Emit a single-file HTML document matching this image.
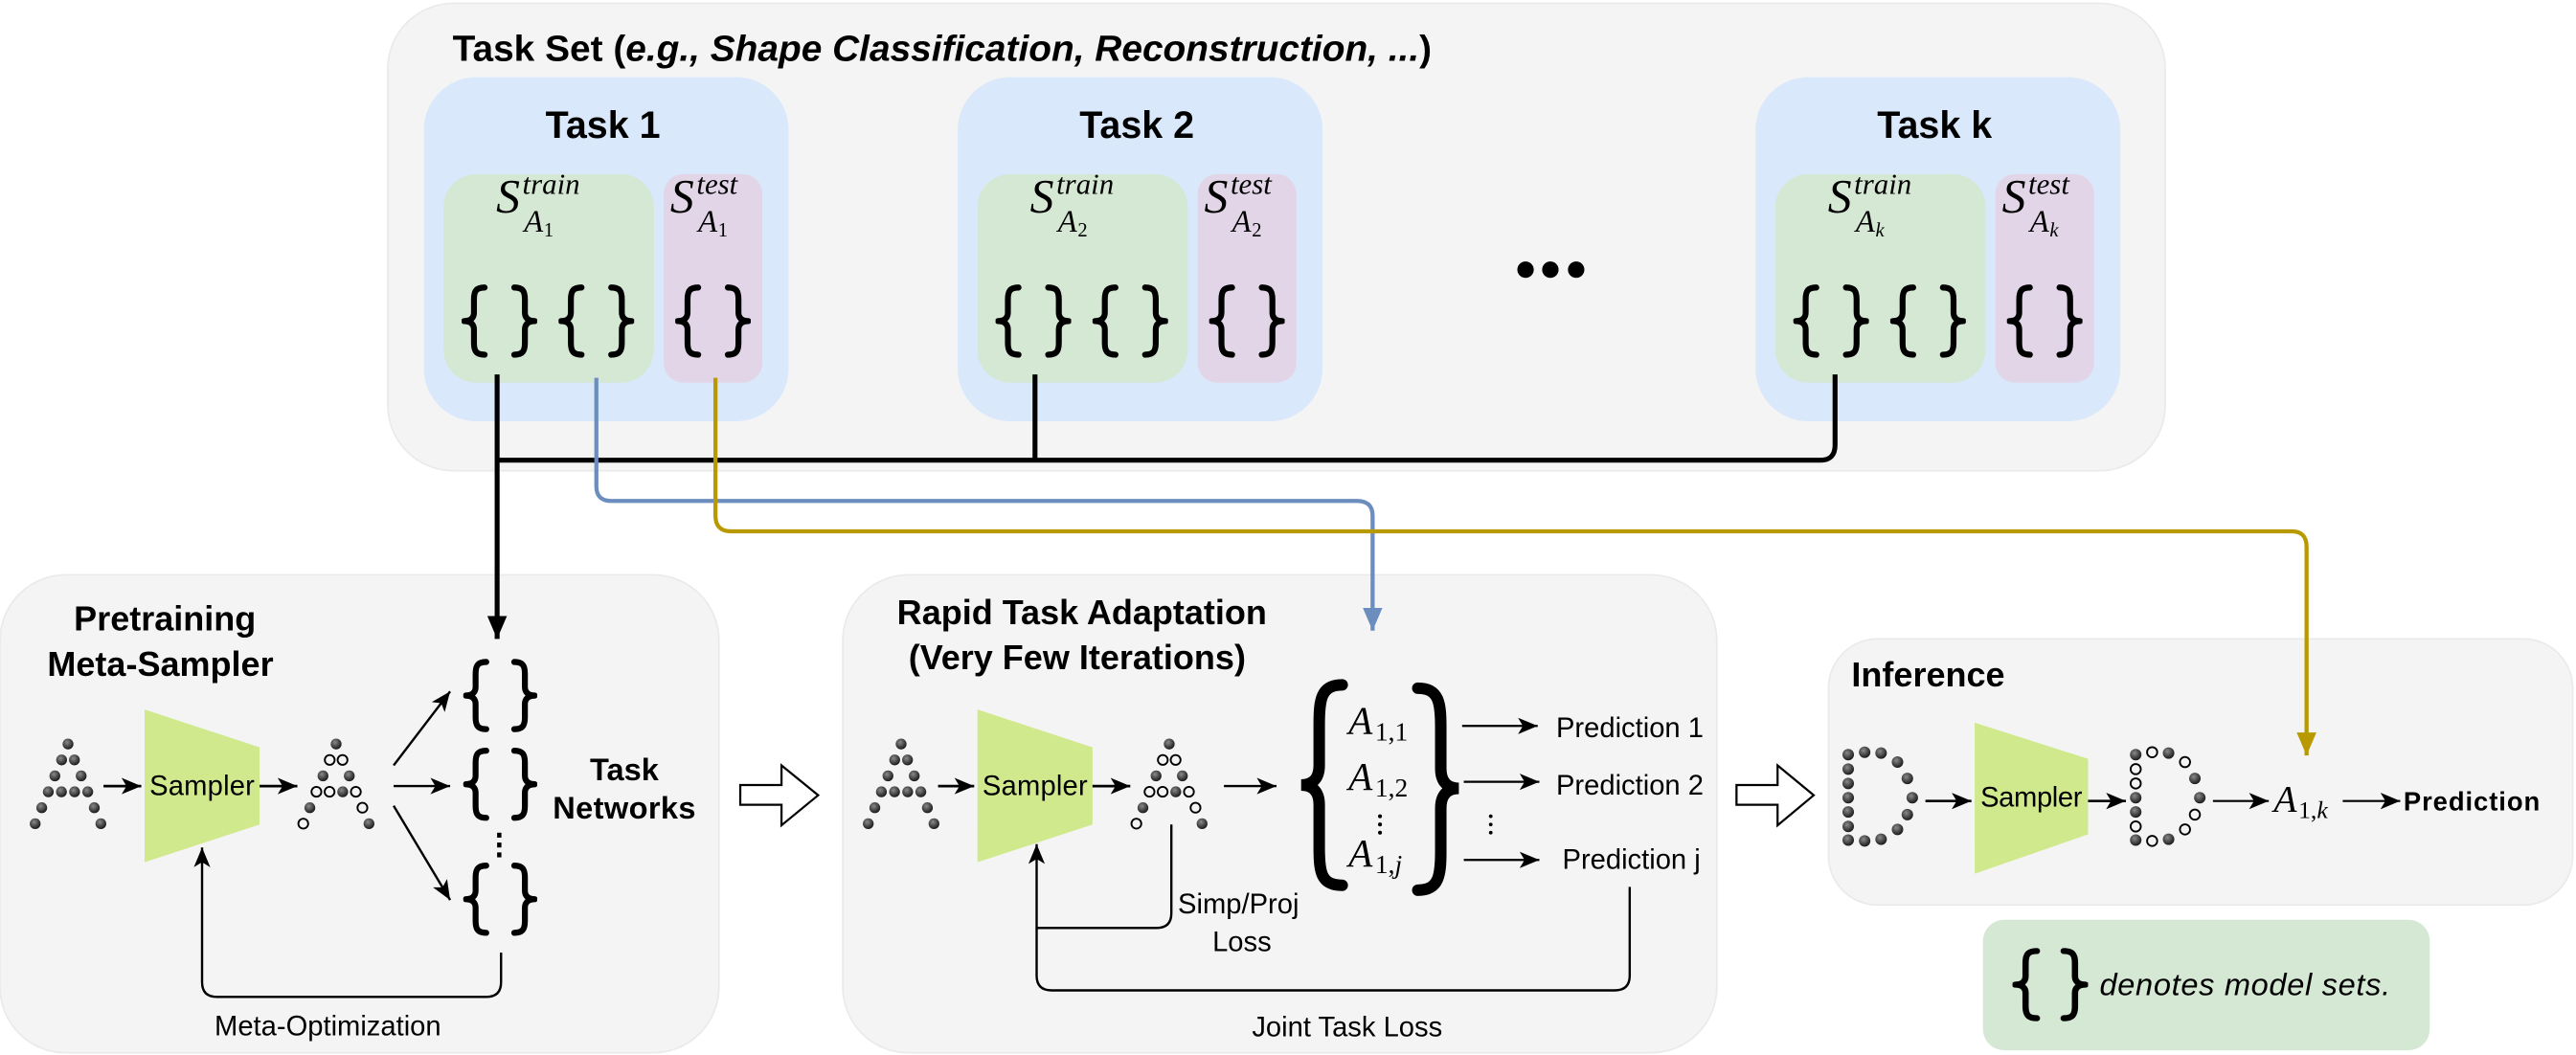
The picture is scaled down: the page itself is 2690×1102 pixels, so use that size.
<!DOCTYPE html>
<html><head><meta charset="utf-8"><style>
html,body{margin:0;padding:0;background:#fff;}
svg{display:block;}
text{font-family:"Liberation Sans",sans-serif;}
.m{font-family:"Liberation Serif",serif;font-style:italic;}
.mu{font-family:"Liberation Serif",serif;}
</style></head><body>
<svg width="2690" height="1102" viewBox="0 0 1568 642.35" preserveAspectRatio="none" xmlns="http://www.w3.org/2000/svg">
<defs>
<radialGradient id="g" cx="40%" cy="35%" r="65%"><stop offset="0" stop-color="#8a8a8a"/><stop offset="1" stop-color="#1a1a1a"/></radialGradient>
<marker id="ah" markerUnits="userSpaceOnUse" markerWidth="14" markerHeight="12" refX="12" refY="5" orient="auto"><path d="M0,0 L12,5 L0,10 L3,5 Z" fill="#000"/></marker>
<marker id="ahB" markerUnits="userSpaceOnUse" markerWidth="16" markerHeight="14" refX="14" refY="6" orient="auto"><path d="M0,0 L14,6 L0,12 Z" fill="#000"/></marker>
<marker id="ahBl" markerUnits="userSpaceOnUse" markerWidth="16" markerHeight="14" refX="14" refY="6" orient="auto"><path d="M0,0 L14,6 L0,12 Z" fill="#6c8ebf"/></marker>
<marker id="ahG" markerUnits="userSpaceOnUse" markerWidth="16" markerHeight="14" refX="14" refY="6" orient="auto"><path d="M0,0 L14,6 L0,12 Z" fill="#b89a00"/></marker>
<symbol id="bl" viewBox="0 0 16 44" preserveAspectRatio="none"><path d="M14,2 C9,2 7.5,4 7.5,9 L7.5,17 C7.5,20 5.5,22 1.5,22 C5.5,22 7.5,24 7.5,27 L7.5,35 C7.5,40 9,42 14,42" fill="none" stroke="#000" stroke-width="3.6" stroke-linecap="round" stroke-linejoin="round"/></symbol>
<symbol id="br" viewBox="0 0 16 44" preserveAspectRatio="none"><path d="M2,2 C7,2 8.5,4 8.5,9 L8.5,17 C8.5,20 10.5,22 14.5,22 C10.5,22 8.5,24 8.5,27 L8.5,35 C8.5,40 7,42 2,42" fill="none" stroke="#000" stroke-width="3.6" stroke-linecap="round" stroke-linejoin="round"/></symbol>
</defs>

<!-- Task set -->
<rect x="236" y="2" width="1082" height="284.6" rx="40" fill="#f4f4f4" stroke="#eaeaea"/>
<text x="275.5" y="37" font-size="22" font-weight="bold" textLength="596" lengthAdjust="spacingAndGlyphs">Task Set (<tspan font-style="italic">e.g., Shape Classification, Reconstruction, ...</tspan>)</text>

<!-- Task 1 -->
<rect x="258" y="47" width="222" height="209.5" rx="32" fill="#dae8fb"/>
<text x="367" y="84" font-size="23" font-weight="bold" text-anchor="middle">Task 1</text>
<rect x="270" y="106" width="128" height="127" rx="20" fill="#d5e8d4"/>
<rect x="404" y="106" width="60" height="127" rx="12" fill="#e1d5e7"/>
<text class="m" x="302" y="129" font-size="29">S</text><text class="m" x="318" y="118" font-size="18">train</text><text class="m" x="319" y="141" font-size="19">A</text><text class="mu" x="331" y="144" font-size="12">1</text>
<text class="m" x="408" y="129" font-size="29">S</text><text class="m" x="424" y="118" font-size="18">test</text><text class="m" x="425" y="141" font-size="19">A</text><text class="mu" x="437" y="144" font-size="12">1</text>
<use href="#bl" x="281" y="173" width="16" height="45"/><use href="#br" x="311" y="173" width="16" height="45"/>
<use href="#bl" x="340" y="173" width="16" height="45"/><use href="#br" x="370" y="173" width="16" height="45"/>
<use href="#bl" x="411" y="173" width="16" height="45"/><use href="#br" x="441" y="173" width="16" height="45"/>

<!-- Task 2 -->
<rect x="583" y="47" width="222" height="209.5" rx="32" fill="#dae8fb"/>
<text x="692" y="84" font-size="23" font-weight="bold" text-anchor="middle">Task 2</text>
<rect x="595" y="106" width="128" height="127" rx="20" fill="#d5e8d4"/>
<rect x="729" y="106" width="60" height="127" rx="12" fill="#e1d5e7"/>
<text class="m" x="627" y="129" font-size="29">S</text><text class="m" x="643" y="118" font-size="18">train</text><text class="m" x="644" y="141" font-size="19">A</text><text class="mu" x="656" y="144" font-size="12">2</text>
<text class="m" x="733" y="129" font-size="29">S</text><text class="m" x="749" y="118" font-size="18">test</text><text class="m" x="750" y="141" font-size="19">A</text><text class="mu" x="762" y="144" font-size="12">2</text>
<use href="#bl" x="606" y="173" width="16" height="45"/><use href="#br" x="636" y="173" width="16" height="45"/>
<use href="#bl" x="665" y="173" width="16" height="45"/><use href="#br" x="695" y="173" width="16" height="45"/>
<use href="#bl" x="736" y="173" width="16" height="45"/><use href="#br" x="766" y="173" width="16" height="45"/>

<!-- dots -->
<circle cx="928.6" cy="164.2" r="5" fill="#000"/><circle cx="943.7" cy="164.2" r="5" fill="#000"/><circle cx="959.4" cy="164.2" r="5" fill="#000"/>

<!-- Task k -->
<rect x="1068.6" y="47" width="222" height="209.5" rx="32" fill="#dae8fb"/>
<text x="1177.6" y="84" font-size="23" font-weight="bold" text-anchor="middle">Task k</text>
<rect x="1080.6" y="106" width="128" height="127" rx="20" fill="#d5e8d4"/>
<rect x="1214.6" y="106" width="60" height="127" rx="12" fill="#e1d5e7"/>
<text class="m" x="1112.6" y="129" font-size="29">S</text><text class="m" x="1128.6" y="118" font-size="18">train</text><text class="m" x="1129.6" y="141" font-size="19">A</text><text class="m" x="1141.6" y="144" font-size="12">k</text>
<text class="m" x="1218.6" y="129" font-size="29">S</text><text class="m" x="1234.6" y="118" font-size="18">test</text><text class="m" x="1235.6" y="141" font-size="19">A</text><text class="m" x="1247.6" y="144" font-size="12">k</text>
<use href="#bl" x="1091.6" y="173" width="16" height="45"/><use href="#br" x="1121.6" y="173" width="16" height="45"/>
<use href="#bl" x="1150.6" y="173" width="16" height="45"/><use href="#br" x="1180.6" y="173" width="16" height="45"/>
<use href="#bl" x="1221.6" y="173" width="16" height="45"/><use href="#br" x="1251.6" y="173" width="16" height="45"/>

<!-- Pretraining box -->
<rect x="0" y="350" width="437.6" height="291" rx="40" fill="#f4f4f4" stroke="#eaeaea"/>
<text x="45" y="383.7" font-size="21" font-weight="bold">Pretraining</text>
<text x="28.8" y="411.6" font-size="21" font-weight="bold">Meta-Sampler</text>
<polygon points="88,432 158,455 158,502 88,525" fill="#cfe98c"/>
<text x="123" y="484" font-size="17" text-anchor="middle" textLength="64">Sampler</text>
<line x1="63" y1="478.6" x2="86" y2="478.6" stroke="#000" stroke-width="1.6" marker-end="url(#ah)"/>
<line x1="158" y1="478.6" x2="181" y2="478.6" stroke="#000" stroke-width="1.6" marker-end="url(#ah)"/>
<g id="Ain" fill="url(#g)">
<circle cx="41.4" cy="453" r="3.3"/>
<circle cx="37.5" cy="462.7" r="3.3"/><circle cx="45.3" cy="462.7" r="3.3"/>
<circle cx="33.4" cy="472.4" r="3.3"/><circle cx="49.4" cy="472.4" r="3.3"/>
<circle cx="29.4" cy="482.1" r="3.3"/><circle cx="37.4" cy="482.1" r="3.3"/><circle cx="45.4" cy="482.1" r="3.3"/><circle cx="53.4" cy="482.1" r="3.3"/>
<circle cx="25.4" cy="491.8" r="3.3"/><circle cx="57.4" cy="491.8" r="3.3"/>
<circle cx="21.4" cy="501.5" r="3.3"/><circle cx="61.4" cy="501.5" r="3.3"/>
</g>
<g id="Aout" stroke="#000" stroke-width="1.1">
<circle cx="204.6" cy="453" r="3.3" fill="url(#g)" stroke="none"/>
<circle cx="200.7" cy="462.7" r="3" fill="none"/><circle cx="208.5" cy="462.7" r="3" fill="none"/>
<circle cx="196.6" cy="472.4" r="3.3" fill="url(#g)" stroke="none"/><circle cx="212.6" cy="472.4" r="3.3" fill="url(#g)" stroke="none"/>
<circle cx="192.6" cy="482.1" r="3" fill="none"/><circle cx="200.6" cy="482.1" r="3" fill="none"/><circle cx="208.6" cy="482.1" r="3.3" fill="url(#g)" stroke="none"/><circle cx="216.6" cy="482.1" r="3" fill="none"/>
<circle cx="188.6" cy="491.8" r="3.3" fill="url(#g)" stroke="none"/><circle cx="220.6" cy="491.8" r="3" fill="none"/>
<circle cx="184.6" cy="501.5" r="3" fill="none"/><circle cx="224.6" cy="501.5" r="3.3" fill="url(#g)" stroke="none"/>
</g>
<line x1="239.6" y1="466" x2="274" y2="421" stroke="#000" stroke-width="1.4" marker-end="url(#ah)"/>
<line x1="239.6" y1="478.6" x2="274" y2="478.6" stroke="#000" stroke-width="1.4" marker-end="url(#ah)"/>
<line x1="239.6" y1="490.6" x2="274" y2="548" stroke="#000" stroke-width="1.4" marker-end="url(#ah)"/>
<use href="#bl" x="282" y="401" width="16" height="45"/><use href="#br" x="311" y="401" width="16" height="45"/>
<use href="#bl" x="282" y="455" width="16" height="45"/><use href="#br" x="311" y="455" width="16" height="45"/>
<use href="#bl" x="282" y="525" width="16" height="45"/><use href="#br" x="311" y="525" width="16" height="45"/>
<g fill="#000"><rect x="302.6" y="507" width="2.6" height="3"/><rect x="302.6" y="513" width="2.6" height="3"/><rect x="302.6" y="519" width="2.6" height="3"/></g>
<text x="380" y="475" font-size="19" font-weight="bold" text-anchor="middle">Task</text>
<text x="380" y="498.5" font-size="19" font-weight="bold" text-anchor="middle" textLength="87">Networks</text>
<path d="M305,580 L305,598 Q305,607 296,607 L132,607 Q123,607 123,598 L123,516" fill="none" stroke="#000" stroke-width="1.4" marker-end="url(#ah)"/>
<text x="130.6" y="630.5" font-size="17">Meta-Optimization</text>

<!-- hollow arrow 1 -->
<polygon points="450.6,478 475.7,478 475.7,466 498,484.2 475.7,502.5 475.7,490 450.6,490" fill="#fff" stroke="#000" stroke-width="1.3"/>

<!-- Rapid box -->
<rect x="513" y="350" width="532" height="291" rx="40" fill="#f4f4f4" stroke="#eaeaea"/>
<text x="546" y="380" font-size="21" font-weight="bold">Rapid Task Adaptation</text>
<text x="553" y="407.5" font-size="21" font-weight="bold">(Very Few Iterations)</text>
<polygon points="595,432 665,455 665,502 595,525" fill="#cfe98c"/>
<text x="630" y="484" font-size="17" text-anchor="middle" textLength="64">Sampler</text>
<line x1="571" y1="478.6" x2="593" y2="478.6" stroke="#000" stroke-width="1.6" marker-end="url(#ah)"/>
<line x1="665" y1="478.6" x2="688" y2="478.6" stroke="#000" stroke-width="1.6" marker-end="url(#ah)"/>
<use href="#Ain" x="507.1"/>
<use href="#Aout" x="507.1"/>
<line x1="745" y1="478.6" x2="777" y2="478.6" stroke="#000" stroke-width="1.4" marker-end="url(#ah)"/>
<path d="M817,417 C804,417 803,426 803,441 L803,466 C803,474 799,478 792,478 C799,478 803,482 803,490 L803,516 C803,531 804,539 817,539" fill="none" stroke="#000" stroke-width="7" stroke-linecap="round"/>
<path d="M863,419 C876,419 877,428 877,443 L877,468 C877,476 881,480 888,480 C881,480 877,484 877,492 L877,518 C877,533 876,542 863,542" fill="none" stroke="#000" stroke-width="7" stroke-linecap="round"/>
<text class="m" x="820.8" y="446.9" font-size="24">A</text><text class="mu" x="837" y="451" font-size="16">1,1</text>
<text class="m" x="820.8" y="480.9" font-size="24">A</text><text class="mu" x="837" y="485" font-size="16">1,2</text>
<g fill="#000"><circle cx="840" cy="497" r="1.2"/><circle cx="840" cy="502" r="1.2"/><circle cx="840" cy="507" r="1.2"/></g>
<text class="m" x="820.8" y="527.5" font-size="24">A</text><text class="mu" x="837" y="531.5" font-size="16">1,<tspan class="m">j</tspan></text>
<line x1="890" y1="442" x2="936" y2="442" stroke="#000" stroke-width="1.3" marker-end="url(#ah)"/>
<line x1="891" y1="476" x2="937" y2="476" stroke="#000" stroke-width="1.3" marker-end="url(#ah)"/>
<line x1="891" y1="523.6" x2="937" y2="523.6" stroke="#000" stroke-width="1.3" marker-end="url(#ah)"/>
<text x="947.2" y="448.8" font-size="17">Prediction 1</text>
<text x="947.2" y="483.8" font-size="17">Prediction 2</text>
<text x="951" y="529" font-size="17">Prediction j</text>
<g fill="#000"><circle cx="907.4" cy="497" r="1.1"/><circle cx="907.4" cy="502" r="1.1"/><circle cx="907.4" cy="507" r="1.1"/></g>
<path d="M713,502 L713,556 Q713,565 704,565 L631,565" fill="none" stroke="#000" stroke-width="1.4"/>
<path d="M992,540 L992,594 Q992,603 983,603 L640,603 Q631,603 631,594 L631,514" fill="none" stroke="#000" stroke-width="1.4" marker-end="url(#ah)"/>
<text x="717" y="556" font-size="17">Simp/Proj</text>
<text x="738" y="579" font-size="17">Loss</text>
<text x="820" y="631" font-size="17" text-anchor="middle">Joint Task Loss</text>

<!-- hollow arrow 2 -->
<polygon points="1057,478 1082,478 1082,466 1104,484.2 1082,502.5 1082,490 1057,490" fill="#fff" stroke="#000" stroke-width="1.3"/>

<!-- Inference -->
<rect x="1113" y="389" width="453" height="162" rx="30" fill="#f4f4f4" stroke="#eaeaea"/>
<text x="1127" y="418" font-size="21" font-weight="bold">Inference</text>
<polygon points="1202,440 1271,462 1271,508 1202,532" fill="#cfe98c"/>
<text x="1236.5" y="491" font-size="17" text-anchor="middle" textLength="62">Sampler</text>
<g fill="url(#g)">
<circle cx="1125" cy="459.5" r="3.5"/><circle cx="1125" cy="468.3" r="3.5"/><circle cx="1125" cy="477" r="3.5"/><circle cx="1125" cy="485.7" r="3.5"/><circle cx="1125" cy="494.4" r="3.5"/><circle cx="1125" cy="503.2" r="3.5"/><circle cx="1125" cy="511.5" r="3.5"/>
<circle cx="1135" cy="458" r="3.5"/><circle cx="1145" cy="458.5" r="3.5"/><circle cx="1155" cy="464" r="3.5"/><circle cx="1161" cy="474" r="3.5"/><circle cx="1164" cy="485.7" r="3.5"/><circle cx="1161" cy="496" r="3.5"/><circle cx="1155" cy="505" r="3.5"/><circle cx="1145" cy="511" r="3.5"/><circle cx="1135" cy="512" r="3.5"/>
</g>
<g stroke="#000" stroke-width="1.1">
<circle cx="1300" cy="459.5" r="3.5" fill="url(#g)" stroke="none"/><circle cx="1300" cy="468.3" r="3.1" fill="none"/><circle cx="1300" cy="477" r="3.1" fill="none"/><circle cx="1300" cy="485.7" r="3.5" fill="url(#g)" stroke="none"/><circle cx="1300" cy="494.4" r="3.5" fill="url(#g)" stroke="none"/><circle cx="1300" cy="503.2" r="3.1" fill="none"/><circle cx="1300" cy="511.5" r="3.5" fill="url(#g)" stroke="none"/>
<circle cx="1310" cy="458" r="3.1" fill="none"/><circle cx="1320" cy="458.5" r="3.5" fill="url(#g)" stroke="none"/><circle cx="1330" cy="464" r="3.1" fill="none"/><circle cx="1336" cy="474" r="3.5" fill="url(#g)" stroke="none"/><circle cx="1339" cy="485.7" r="3.5" fill="url(#g)" stroke="none"/><circle cx="1336" cy="496" r="3.1" fill="none"/><circle cx="1330" cy="505" r="3.1" fill="none"/><circle cx="1320" cy="511" r="3.5" fill="url(#g)" stroke="none"/><circle cx="1310" cy="512" r="3.1" fill="none"/>
</g>
<line x1="1172" y1="487.7" x2="1200" y2="487.7" stroke="#000" stroke-width="1.6" marker-end="url(#ah)"/>
<line x1="1271" y1="487.7" x2="1294" y2="487.7" stroke="#000" stroke-width="1.6" marker-end="url(#ah)"/>
<line x1="1347" y1="487.7" x2="1381" y2="487.7" stroke="#000" stroke-width="1.3" marker-end="url(#ah)"/>
<text class="m" x="1384" y="494" font-size="23">A</text><text class="mu" x="1399" y="498" font-size="15">1,<tspan class="m">k</tspan></text>
<line x1="1426" y1="487.7" x2="1461" y2="487.7" stroke="#000" stroke-width="1.3" marker-end="url(#ah)"/>
<text x="1463" y="493.5" font-size="16" font-weight="bold" textLength="83">Prediction</text>

<!-- legend -->
<rect x="1207" y="560" width="272" height="79.5" rx="13" fill="#d5e8d4"/>
<use href="#bl" x="1225" y="577" width="17" height="45"/><use href="#br" x="1254" y="577" width="17" height="45"/>
<text x="1278" y="606" font-size="19" font-style="italic" textLength="177">denotes model sets.</text>

<!-- connectors -->
<path d="M302.6,228 L302.6,389" fill="none" stroke="#000" stroke-width="3" marker-end="url(#ahB)"/>
<path d="M302.6,280.2 L1108,280.2 Q1117,280.2 1117,271 L1117,228" fill="none" stroke="#000" stroke-width="3"/>
<path d="M630,228 L630,280.2" fill="none" stroke="#000" stroke-width="3"/>
<path d="M363,230 L363,296 Q363,305 372,305 L826,305 Q835.5,305 835.5,314 L835.5,384" fill="none" stroke="#6c8ebf" stroke-width="2.5" marker-end="url(#ahBl)"/>
<path d="M435.5,230 L435.5,314 Q435.5,323.5 445,323.5 L1395,323.5 Q1404,323.5 1404,333 L1404,460" fill="none" stroke="#b89a00" stroke-width="2.5" marker-end="url(#ahG)"/>
</svg>
</body></html>
